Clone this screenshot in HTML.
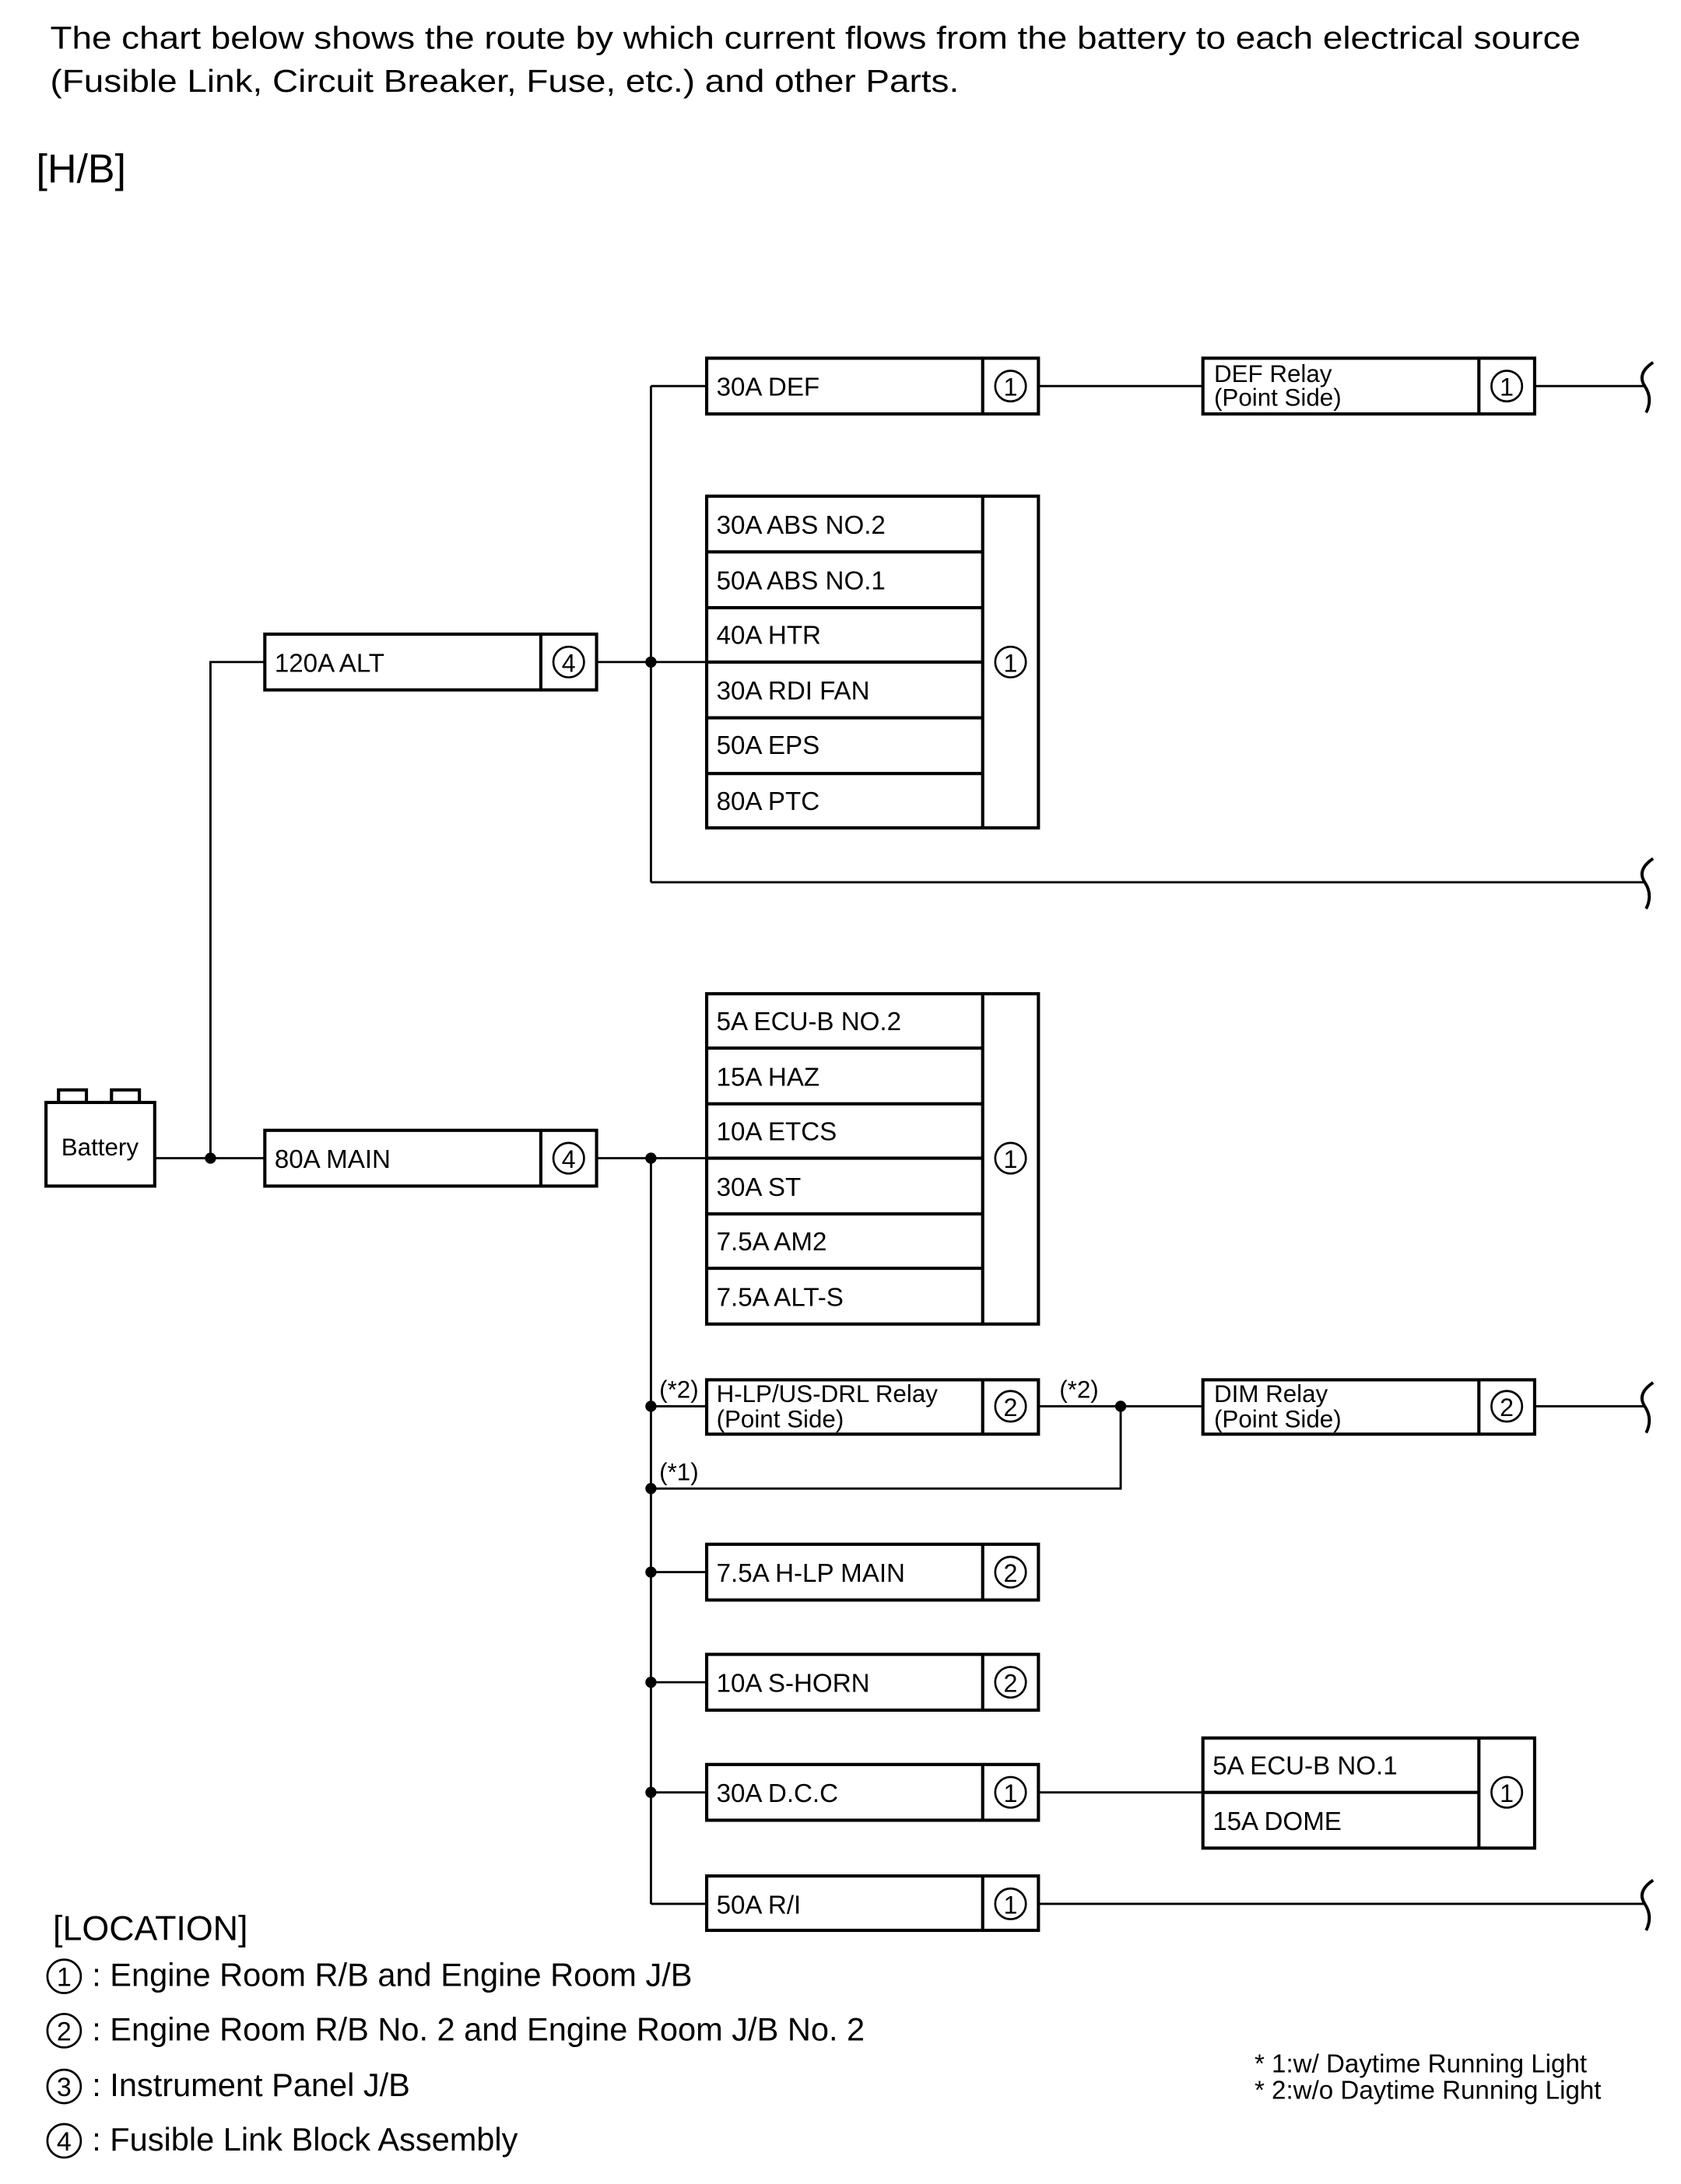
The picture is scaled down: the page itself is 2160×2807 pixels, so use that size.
<!DOCTYPE html>
<html><head><meta charset="utf-8"><style>
html,body{margin:0;padding:0;background:#fff}
svg{display:block}
text{font-family:"Liberation Sans",Arial,sans-serif;fill:#000}
</style></head><body>
<svg width="2160" height="2807" viewBox="0 0 1206 1567" preserveAspectRatio="none" xmlns="http://www.w3.org/2000/svg">
<rect width="1206" height="1567" fill="#fff"/>
<text x="36" y="35" font-size="23" textLength="1098" lengthAdjust="spacingAndGlyphs">The chart below shows the route by which current flows from the battery to each electrical source</text>
<text x="36" y="66" font-size="23" textLength="652" lengthAdjust="spacingAndGlyphs">(Fusible Link, Circuit Breaker, Fuse, etc.) and other Parts.</text>
<text x="26" y="131" font-size="29">[H/B]</text>

<g stroke="#000" stroke-width="1.6" fill="none">
<polyline points="111,831 190,831"/>
<polyline points="151,831 151,475 190,475"/>
<line x1="428" y1="475" x2="507" y2="475"/>
<line x1="467" y1="277" x2="467" y2="633"/>
<line x1="467" y1="277" x2="507" y2="277"/>
<line x1="745" y1="277" x2="863" y2="277"/>
<line x1="1101" y1="277" x2="1180" y2="277"/>
<line x1="467" y1="633" x2="1180" y2="633"/>
<line x1="428" y1="831" x2="507" y2="831"/>
<line x1="467" y1="831" x2="467" y2="1366"/>
<line x1="467" y1="1366" x2="507" y2="1366"/>
<line x1="467" y1="1009" x2="507" y2="1009"/>
<line x1="745" y1="1009" x2="863" y2="1009"/>
<line x1="1101" y1="1009" x2="1180" y2="1009"/>
<polyline points="467,1068 804,1068 804,1009"/>
<line x1="467" y1="1128" x2="507" y2="1128"/>
<line x1="467" y1="1207" x2="507" y2="1207"/>
<line x1="467" y1="1286" x2="507" y2="1286"/>
<line x1="745" y1="1286" x2="863" y2="1286"/>
<line x1="745" y1="1366" x2="1180" y2="1366"/>
<path d="M1186,260 Q1174,268 1180,277 Q1186,286 1181,296" stroke-width="2.2"/>
<path d="M1186,616 Q1174,624 1180,633 Q1186,642 1181,652" stroke-width="2.2"/>
<path d="M1186,992 Q1174,1000 1180,1009 Q1186,1018 1181,1028" stroke-width="2.2"/>
<path d="M1186,1349 Q1174,1357 1180,1366 Q1186,1375 1181,1385" stroke-width="2.2"/>
</g>

<g stroke="#000" stroke-width="2.3" fill="#fff">
<rect x="42" y="782" width="20" height="9"/>
<rect x="80" y="782" width="20" height="9"/>
<rect x="33" y="791" width="78" height="60"/>
<rect x="190" y="455" width="238" height="40"/>
<line x1="388" y1="455" x2="388" y2="495"/>
<rect x="190" y="811" width="238" height="40"/>
<line x1="388" y1="811" x2="388" y2="851"/>
<rect x="507" y="257" width="238" height="40"/>
<line x1="705" y1="257" x2="705" y2="297"/>
<rect x="863" y="257" width="238" height="40"/>
<line x1="1061" y1="257" x2="1061" y2="297"/>
<rect x="507" y="356" width="238" height="238"/>
<line x1="705" y1="356" x2="705" y2="594"/>
<line x1="507" y1="396" x2="705" y2="396"/>
<line x1="507" y1="436" x2="705" y2="436"/>
<line x1="507" y1="475" x2="705" y2="475"/>
<line x1="507" y1="515" x2="705" y2="515"/>
<line x1="507" y1="555" x2="705" y2="555"/>
<rect x="507" y="713" width="238" height="237"/>
<line x1="705" y1="713" x2="705" y2="950"/>
<line x1="507" y1="752" x2="705" y2="752"/>
<line x1="507" y1="792" x2="705" y2="792"/>
<line x1="507" y1="831" x2="705" y2="831"/>
<line x1="507" y1="871" x2="705" y2="871"/>
<line x1="507" y1="910" x2="705" y2="910"/>
<rect x="507" y="990" width="238" height="39"/>
<line x1="705" y1="990" x2="705" y2="1029"/>
<rect x="863" y="990" width="238" height="39"/>
<line x1="1061" y1="990" x2="1061" y2="1029"/>
<rect x="507" y="1108" width="238" height="40"/>
<line x1="705" y1="1108" x2="705" y2="1148"/>
<rect x="507" y="1187" width="238" height="40"/>
<line x1="705" y1="1187" x2="705" y2="1227"/>
<rect x="507" y="1266" width="238" height="40"/>
<line x1="705" y1="1266" x2="705" y2="1306"/>
<rect x="863" y="1247" width="238" height="79"/>
<line x1="1061" y1="1247" x2="1061" y2="1326"/>
<line x1="863" y1="1286" x2="1061" y2="1286"/>
<rect x="507" y="1346" width="238" height="39"/>
<line x1="705" y1="1346" x2="705" y2="1385"/>
</g>

<g fill="#000">
<circle cx="151" cy="831" r="4"/>
<circle cx="467" cy="475" r="4"/>
<circle cx="467" cy="831" r="4"/>
<circle cx="467" cy="1009" r="4"/>
<circle cx="804" cy="1009" r="4"/>
<circle cx="467" cy="1068" r="4"/>
<circle cx="467" cy="1128" r="4"/>
<circle cx="467" cy="1207" r="4"/>
<circle cx="467" cy="1286" r="4"/>
</g>

<g stroke="#000" stroke-width="1.5" fill="none">
<circle cx="408" cy="475" r="11"/><circle cx="408" cy="831" r="11"/>
<circle cx="725" cy="277" r="11"/><circle cx="1081" cy="277" r="11"/>
<circle cx="725" cy="475" r="11"/><circle cx="725" cy="831" r="11"/>
<circle cx="725" cy="1009" r="11"/><circle cx="1081" cy="1009" r="11"/>
<circle cx="725" cy="1128" r="11"/><circle cx="725" cy="1207" r="11"/>
<circle cx="725" cy="1286" r="11"/><circle cx="1081" cy="1286" r="11"/>
<circle cx="725" cy="1366" r="11"/>
<circle cx="46" cy="1418" r="12"/><circle cx="46" cy="1457" r="12"/>
<circle cx="46" cy="1497" r="12"/><circle cx="46" cy="1536" r="12"/>
</g>
<g font-size="18" text-anchor="middle">
<text x="408" y="482">4</text><text x="408" y="838">4</text>
<text x="725" y="284">1</text><text x="1081" y="284">1</text>
<text x="725" y="482">1</text><text x="725" y="838">1</text>
<text x="725" y="1016">2</text><text x="1081" y="1016">2</text>
<text x="725" y="1135">2</text><text x="725" y="1214">2</text>
<text x="725" y="1293">1</text><text x="1081" y="1293">1</text>
<text x="725" y="1373">1</text>
<text x="46" y="1425" font-size="19">1</text><text x="46" y="1464" font-size="19">2</text>
<text x="46" y="1504" font-size="19">3</text><text x="46" y="1543" font-size="19">4</text>
</g>

<g font-size="18.5">
<text x="44" y="829" font-size="17.5">Battery</text>
<text x="197" y="482">120A ALT</text>
<text x="197" y="838">80A MAIN</text>
<text x="514" y="284">30A DEF</text>
<text x="514" y="383">30A ABS NO.2</text>
<text x="514" y="423">50A ABS NO.1</text>
<text x="514" y="462">40A HTR</text>
<text x="514" y="502">30A RDI FAN</text>
<text x="514" y="541">50A EPS</text>
<text x="514" y="581">80A PTC</text>
<text x="514" y="739">5A ECU-B NO.2</text>
<text x="514" y="779">15A HAZ</text>
<text x="514" y="818">10A ETCS</text>
<text x="514" y="858">30A ST</text>
<text x="514" y="897">7.5A AM2</text>
<text x="514" y="937">7.5A ALT-S</text>
<text x="514" y="1135">7.5A H-LP MAIN</text>
<text x="514" y="1214">10A S-HORN</text>
<text x="514" y="1293">30A D.C.C</text>
<text x="514" y="1373">50A R/I</text>
<text x="870" y="1273">5A ECU-B NO.1</text>
<text x="870" y="1313">15A DOME</text>
</g>
<g font-size="17.5">
<text x="871" y="274">DEF Relay</text>
<text x="871" y="291">(Point Side)</text>
<text x="514" y="1006">H-LP/US-DRL Relay</text>
<text x="514" y="1024">(Point Side)</text>
<text x="871" y="1006">DIM Relay</text>
<text x="871" y="1024">(Point Side)</text>
<text x="473" y="1003">(*2)</text>
<text x="760" y="1003">(*2)</text>
<text x="473" y="1062">(*1)</text>
</g>

<text x="38" y="1392" font-size="25">[LOCATION]</text>
<g font-size="23.2">
<text x="66" y="1425">: Engine Room R/B and Engine Room J/B</text>
<text x="66" y="1464">: Engine Room R/B No. 2 and Engine Room J/B No. 2</text>
<text x="66" y="1504">: Instrument Panel J/B</text>
<text x="66" y="1543">: Fusible Link Block Assembly</text>
</g>
<g font-size="18.5">
<text x="900" y="1487">* 1:w/ Daytime Running Light</text>
<text x="900" y="1506">* 2:w/o Daytime Running Light</text>
</g>
</svg>
</body></html>
